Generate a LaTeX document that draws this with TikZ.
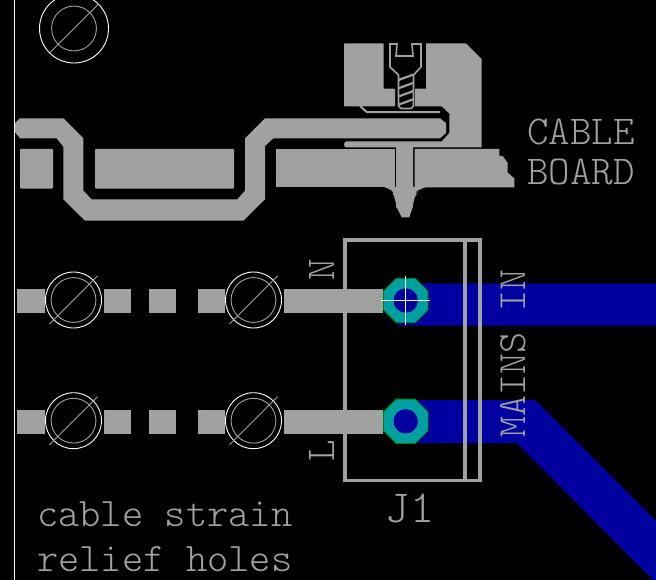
\documentclass[tikz,border=0pt]{standalone}
\usepackage{tikz}
\definecolor{pcbgray}{HTML}{A0A2A0}
\definecolor{pcbblue}{HTML}{0000A0}
\definecolor{pcbteal}{HTML}{00A0A0}
\definecolor{pcbgreen}{HTML}{008400}
\tikzset{
  copper/.style={fill=pcbgray, draw=none},
  outline/.style={draw=pcbgray, line width=1.6},
  silk/.style={pcbgray, inner sep=0, font=\fontsize{#1}{#1}\selectfont\fontseries{l}\ttfamily},
  silk/.default=41
}
\begin{document}
\begin{tikzpicture}[x=1pt, y=-1pt]
  \useasboundingbox (0, 0) rectangle (656, 580);
  \clip (0, 0) rectangle (656, 580);
  \fill[black] (0, 0) rectangle (656, 580);
  \draw[white, line width=1] (14.5, 0) -- (14.5, 580);
  % bottom layer
  \fill[pcbblue] (398, 325.7) -- (656, 325.7) -- (656, 283.3) -- (405, 283.3) -- cycle;
  \fill[pcbblue] (405, 400) -- (535, 400) -- (656, 521) -- (656, 583) -- (517, 443) -- (405, 443) -- cycle;
  % top layer
  \fill[copper] (15, 123) -- (20, 118.3) -- (63.3, 118.3) -- (83.3, 138.3) -- (83.3, 190.7) -- (91.7, 199.3)
    -- (237.3, 199.3) -- (245, 190.7) -- (245, 138.3) -- (265, 118.3) -- (440, 118.3) -- (446, 123) -- (446, 133)
    -- (440, 138.3) -- (273.3, 138.3) -- (265, 146) -- (265, 199.3) -- (243.3, 220.7) -- (85, 220.7) -- (63.3, 199.3)
    -- (63.3, 146.7) -- (56.7, 138.3) -- (20, 138.3) -- (15, 132) -- cycle;
  \fill[copper, rounded corners=1] (20, 149) rectangle (53, 188.7);
  \fill[copper, rounded corners=1] (95, 149) rectangle (234, 188.7);
  \fill[copper] (276, 149) rectangle (394.5, 187.5);
  \fill[copper] (414.5, 149) -- (499.3, 149) -- (499.3, 156) -- (502.7, 156) -- (507.7, 163) -- (507.7, 172.7)
    -- (514.3, 178.3) -- (514.3, 187.5) -- (414.5, 187.5) -- cycle;
  \fill[copper] (396, 146) -- (396, 206) -- (401.7, 217.3) -- (409.3, 217.3) -- (413, 206) -- (413, 146) -- cycle;
  \fill[copper] (384, 187) .. controls (392, 189) and (395, 195) .. (396.5, 208) -- (412.5, 208)
    .. controls (414, 195) and (418, 189) .. (426, 187) -- cycle;
  \draw[black, line width=0.7] (388, 189.5) .. controls (391, 190) and (392, 191) .. (393, 193);
  \draw[black, line width=0.7] (422, 189.5) .. controls (419, 190) and (417, 191) .. (416, 193);
  % pour round the screw
  \fill[copper, rounded corners=0.7] (344, 43.5) -- (383.7, 43.5) -- (383.7, 88.7) -- (395, 88.7) -- (395, 106.3) -- (344, 106.3) -- cycle;
  \fill[copper] (426, 43.5) -- (466, 43.5) -- (481.7, 59) -- (481.7, 147.5) -- (346, 147.5)
    .. controls (343.5, 147.5) and (343.5, 141.5) .. (346, 141.5) -- (441.7, 141.5) -- (449.3, 133)
    -- (449.3, 113.5) -- (441.7, 106.3) -- (415, 106.3) -- (415, 88.7) -- (426, 88.7) -- cycle;
  \draw[pcbgray, line width=2] (360, 106) -- (367, 112.2) -- (440, 112.2);
  % screw
  \draw[outline, line join=miter] (390, 44) -- (397, 44) -- (396, 56) -- (413, 56) -- (412, 44) -- (421, 44)
    -- (421, 67) -- (413.5, 75) -- (413.5, 106) -- (411, 108.5) -- (401, 108.5) -- (398.5, 106) -- (398.5, 75)
    -- (390, 67) -- cycle;
  \foreach \y in {80, 88.3, 96.5, 104.7}
    \draw[pcbgray, line width=2.2] (398.5, \y) -- (413.5, \y-5.5);
  % pads and holes
  \foreach \y in {289, 410}
    \foreach \xa/\xb in {17/45, 104/131, 149/176, 198/225, 284/383}
      \fill[copper] (\xa, \y) rectangle (\xb, \y+23.5);
  \draw[pcbgray, line width=3.3] (345, 240) rectangle (480, 480.5);
  \draw[pcbgray, line width=3.3] (465, 240) -- (465, 480.5);
  \foreach \y in {300.5, 421.3} {
    \fill[pcbteal, draw=pcbgreen, line width=0.8] (405.7-9.5, \y-22.2) -- (405.7+9.5, \y-22.2) -- (405.7+22.2, \y-9.5)
      -- (405.7+22.2, \y+9.5) -- (405.7+9.5, \y+22.2) -- (405.7-9.5, \y+22.2) -- (405.7-22.2, \y+9.5)
      -- (405.7-22.2, \y-9.5) -- cycle;
    \fill[pcbblue] (405.7, \y) circle (12.2);
  }
  \draw[white, line width=0.9] (381, 300.5) -- (430, 300.5);
  \draw[white, line width=0.9] (405.7, 276) -- (405.7, 325);
  \foreach \x/\y/\r in {74/28.5/34.5, 73.5/300/28, 253.5/300/28, 73.5/420.7/28, 253.5/420.7/28} {
    \draw[white, line width=0.9] (\x, \y) circle (\r);
    \draw[pcbgray, line width=0.9] (\x, \y) circle (22.4);
    \draw[pcbgray, line width=0.9] (\x-24, \y+24) -- (\x+24, \y-24);
  }
  % texts
  \node[silk, anchor=base west] (cable) at (527, 145) {CABLE};
  \node[silk, anchor=base west] (board) at (527, 185) {BOARD};
  \node[silk=40, anchor=base west, rotate=90] (mains) at (525, 438) {MAINS IN};
  \node[silk, anchor=base, rotate=90] (netn) at (334, 269.5) {N};
  \node[silk, anchor=base, rotate=90] (netl) at (334, 451) {L};
  \node[silk=46, anchor=base] (ref) at (410, 522.7) {J1};
  \node[silk=40.5, anchor=base west] (strain) at (37, 526) {cable strain};
  \node[silk=40.5, anchor=base west] (relief) at (37, 571.7) {relief holes};
\end{tikzpicture}
\end{document}
